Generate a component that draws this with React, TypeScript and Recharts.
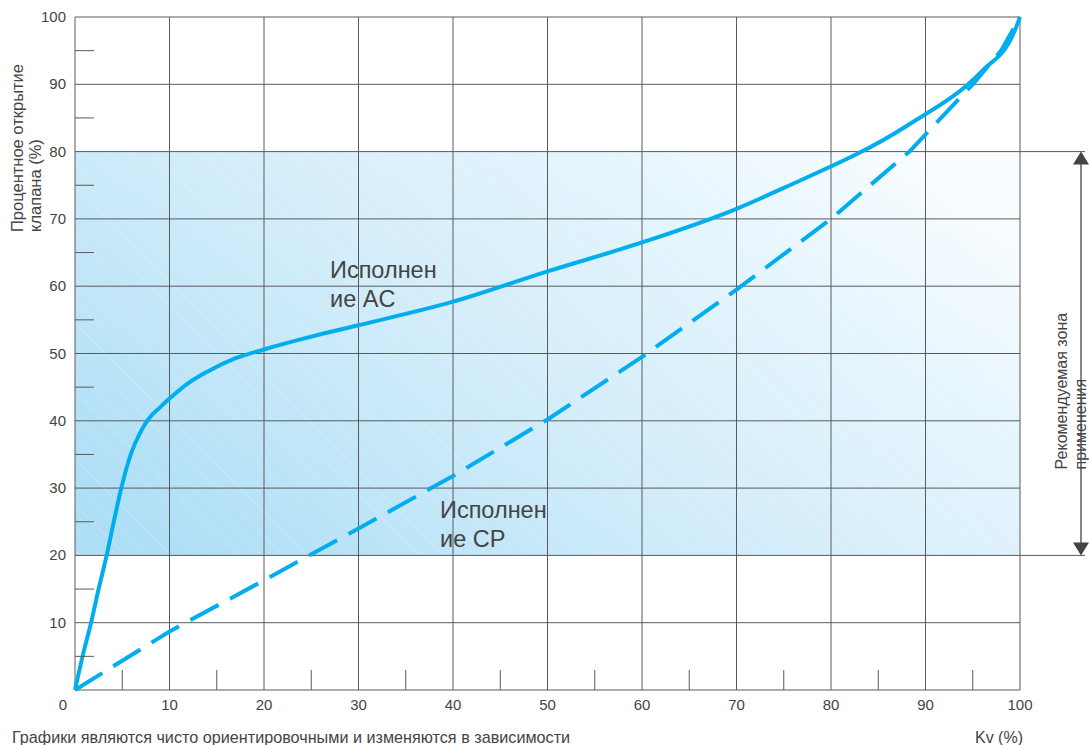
import { LineChart, Line, XAxis, YAxis, ReferenceLine, ReferenceArea } from "recharts";

// Kv (%) -> percent opening
const acKv = [0, 0.8, 1.7, 2.5, 3.35, 4.1, 4.9, 5.9, 7, 7.8, 9, 10, 12, 14, 17, 20, 25, 30, 40, 50, 60, 70, 75, 88, 96, 99.3, 100];
const acOpen = [0, 5, 10, 15, 20, 25, 30, 35, 38.5, 40.3, 42, 43.3, 45.6, 47.3, 49.3, 50.6, 52.5, 54.2, 57.7, 62.2, 66.5, 71.5, 74.6, 83.8, 92, 97.5, 100];

const cpKv = [0, 10, 20, 30, 40, 50, 60, 70, 80, 88.3, 95, 98, 100];
const cpOpen = [0, 8.7, 16.3, 24, 31.8, 40.2, 49.5, 59.5, 70, 80, 90, 95, 100];

const xTicks = [0, 5, 10, 15, 20, 25, 30, 35, 40, 45, 50, 55, 60, 65, 70, 75, 80, 85, 90, 95, 100];
const yTicks = [0, 5, 10, 15, 20, 25, 30, 35, 40, 45, 50, 55, 60, 65, 70, 75, 80, 85, 90, 95, 100];
const gridX = [0, 10, 20, 30, 40, 50, 60, 70, 80, 90, 100];
const gridY = [0, 10, 20, 30, 40, 50, 60, 70, 80, 90, 100];
const zone = [20, 80];

const acData = acKv.map((kv, i) => ({ kv, open: acOpen[i] }));
const cpData = cpKv.map((kv, i) => ({ kv, open: cpOpen[i] }));

const BLUE = "#00aeef";
const GRID = "#5a5a5a";
const TEXT = "#444444";
const FONT = "'Liberation Sans', Arial, sans-serif";

function XTick(props: any) {
  const { x, y, payload } = props;
  const v = payload.value;
  if (v % 10 !== 0) return <line x1={x} y1={y} x2={x} y2={y - 20} stroke={GRID} strokeWidth={1} />;
  return (
    <text x={v === 0 ? x - 12 : x} y={y + 20} textAnchor="middle" fontSize={15} fill={TEXT} fontFamily={FONT}>
      {v}
    </text>
  );
}

function YTick(props: any) {
  const { x, y, payload } = props;
  const v = payload.value;
  if (v % 10 !== 0) return <line x1={x} y1={y} x2={x + 19} y2={y} stroke={GRID} strokeWidth={1} />;
  if (v === 0) return null;
  return (
    <text x={x - 9} y={y + 5} textAnchor="end" fontSize={15} fill={TEXT} fontFamily={FONT}>
      {v}
    </text>
  );
}

function ZoneNote(props: any) {
  const vb = props.viewBox;
  if (!vb) return null;
  const r = vb.x + vb.width;
  const top = vb.y;
  const b = vb.y + vb.height;
  const ax = r + 61;
  return (
    <g>
      <line x1={r} y1={top} x2={r + 65} y2={top} stroke={GRID} />
      <line x1={r} y1={b} x2={r + 65} y2={b} stroke={GRID} />
      <line x1={ax} y1={top + 10} x2={ax} y2={b - 10} stroke="#444" strokeWidth={1.3} />
      <polygon points={`${ax},${top} ${ax - 8},${top + 13} ${ax + 8},${top + 13}`} fill="#444" />
      <polygon points={`${ax},${b} ${ax - 8},${b - 13} ${ax + 8},${b - 13}`} fill="#444" />
      <text transform={`rotate(-90 ${r + 47} ${b - 86})`} x={r + 47} y={b - 86} fontSize={16} fill={TEXT} fontFamily={FONT}>
        Рекомендуемая зона
      </text>
      <text transform={`rotate(-90 ${r + 66} ${b - 86})`} x={r + 66} y={b - 86} fontSize={16} fill={TEXT} fontFamily={FONT}>
        применения
      </text>
    </g>
  );
}

export default function App() {
  return (
    <div style={{ position: "relative", width: 1089, height: 745, background: "#fff", fontFamily: FONT }}>
      <style>{`body{margin:0}`}</style>
      <svg width={0} height={0} style={{ position: "absolute" }}>
        <defs>
          <linearGradient id="zoneGrad" x1="0" y1="0.8" x2="1" y2="0.2">
            <stop offset="0" stopColor="#afdff6" />
            <stop offset="0.45" stopColor="#d3edfa" />
            <stop offset="0.8" stopColor="#e8f6fd" />
            <stop offset="1" stopColor="#f8fcff" />
          </linearGradient>
          <pattern id="zoneHatch" patternUnits="userSpaceOnUse" width={16} height={16} patternTransform="rotate(-45)">
            <line x1={0} y1={0} x2={0} y2={16} stroke="#ffffff" strokeOpacity={0.35} strokeWidth={1} />
          </pattern>
        </defs>
      </svg>
      <LineChart width={1089} height={745} margin={{ top: 17, right: 69, bottom: 15, left: 15 }}>
        <XAxis
          type="number"
          dataKey="kv"
          domain={[0, 100]}
          ticks={xTicks}
          interval={0}
          height={40}
          axisLine={false}
          tickLine={false}
          tickSize={0}
          tickMargin={0}
          tick={XTick}
        />
        <YAxis
          type="number"
          dataKey="open"
          domain={[0, 100]}
          ticks={yTicks}
          interval={0}
          width={60}
          axisLine={false}
          tickLine={false}
          tickSize={0}
          tickMargin={0}
          tick={YTick}
        />
        <ReferenceArea x1={0} x2={100} y1={zone[0]} y2={zone[1]} fill="url(#zoneGrad)" fillOpacity={1} stroke="none" zIndex={-150} />
        <ReferenceArea
          x1={0}
          x2={100}
          y1={zone[0]}
          y2={zone[1]}
          fill="url(#zoneHatch)"
          fillOpacity={1}
          stroke="none"
          zIndex={-140}
          label={(p: any) => <ZoneNote {...p} />}
        />
        {gridX.map((v) => (
          <ReferenceLine key={"x" + v} x={v} stroke={GRID} strokeWidth={1} zIndex={-100} />
        ))}
        {gridY.map((v) => (
          <ReferenceLine key={"y" + v} y={v} stroke={GRID} strokeWidth={1} zIndex={-100} />
        ))}
        <Line
          data={cpData}
          dataKey="open"
          type="linear"
          stroke={BLUE}
          strokeWidth={4}
          strokeDasharray="32 13"
          dot={false}
          activeDot={false}
          isAnimationActive={false}
        />
        <Line
          data={acData}
          dataKey="open"
          type="monotoneX"
          stroke={BLUE}
          strokeWidth={4}
          strokeLinejoin="round"
          dot={false}
          activeDot={false}
          isAnimationActive={false}
        />
      </LineChart>
      <svg width={1089} height={745} style={{ position: "absolute", left: 0, top: 0, pointerEvents: "none" }}>
        <g fontFamily={FONT} fill={TEXT}>
          <text transform="rotate(-90 23 232)" x={23} y={232} fontSize={16.5}>Процентное открытие</text>
          <text transform="rotate(-90 41 232)" x={41} y={232} fontSize={16.5}>клапана (%)</text>
          <text x={330} y={278} fontSize={23.5}>Исполнен</text>
          <text x={330} y={307} fontSize={23.5}>ие AC</text>
          <text x={440} y={518} fontSize={23.5}>Исполнен</text>
          <text x={440} y={547} fontSize={23.5}>ие CP</text>
          <text x={12} y={743} fontSize={16.2}>Графики являются чисто ориентировочными и изменяются в зависимости</text>
          <text x={975} y={743} fontSize={16}>Kv (%)</text>
        </g>
      </svg>
    </div>
  );
}
